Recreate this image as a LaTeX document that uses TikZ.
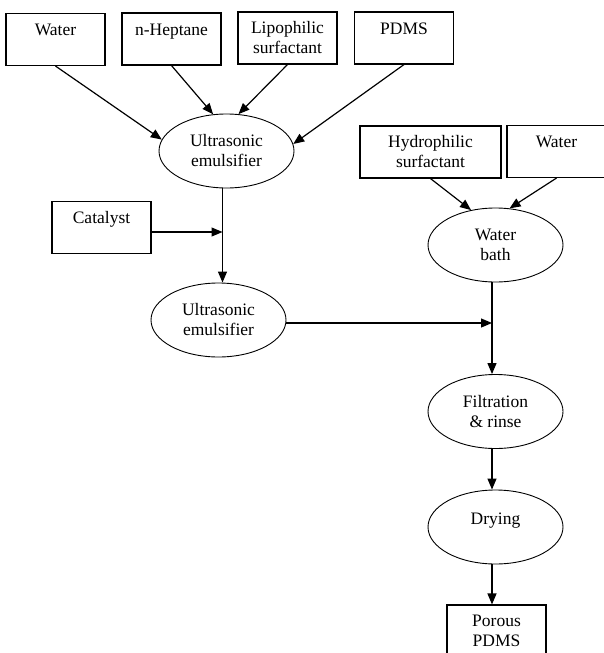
\documentclass[tikz,border=0pt]{standalone}
\usepackage{fontspec}
\setmainfont{Liberation Serif}
\usepackage{tikz}
\usetikzlibrary{shapes.geometric}
\usetikzlibrary{arrows.meta}
\tikzset{x=1pt, y=-1pt,
every node/.style={ % Sets the text of every node
font=\fontsize{17.5}{20}\selectfont,
align=center},
every edge/.style={ % Sets the properties for each flow line
draw,
-{Triangle[length=11pt,width=9pt]}, % Filled arrow heads
line width=1.2pt}}

\begin{document}
\begin{tikzpicture}
\tikzset{box/.style={rectangle,draw,line width=1.1pt,
minimum width=99pt,minimum height=52pt,inner sep=0pt},
proc/.style={ellipse,draw,line width=0.9pt,
minimum width=135pt,minimum height=74pt,inner sep=0pt},
oneline/.style={text height=12pt,text depth=20pt}}
\useasboundingbox (0,0) rectangle (603,653);
\node[box , oneline ] (water1) at (55.5,39.5) {Water};
\node[box , oneline ] (hept) at (171.5,39) {n-Heptane};
\node[box ] (lipo) at (287.5,38) {Lipophilic\\surfactant};
\node[box , oneline ] (pdms) at (404,38) {PDMS};
\node[proc ] (emul1) at (226.5,151) {Ultrasonic\\emulsifier};
\node[box , minimum width=141pt ] (hydro) at (430.5,152) {Hydrophilic\\surfactant};
\node[box , oneline ] (water2) at (556.5,151.5) {Water};
\node[proc ] (bath) at (495.5,245) {Water\\bath};
\node[box , oneline ] (cat) at (101.5,227.5) {Catalyst};
\node[proc ] (emul2) at (218.5,320) {Ultrasonic\\emulsifier};
\node[proc ] (filt) at (495.5,411.5) {Filtration\\\& rinse};
\node[proc , text depth=17pt ] (dry) at (495.5,527) {Drying};
\node[box ] (porous) at (496.5,631) {Porous\\PDMS};
\coordinate (j1) at (222.5,232);
\coordinate (j2) at (492,323);
\draw (water1.south) edge[] (emul1.170) ;
\draw (hept.south) edge[] (emul1.110) ;
\draw (lipo.south) edge[] (emul1.72) ;
\draw (pdms.south) edge[] (emul1.6) ;
\draw (hydro.south) edge[] (bath.125) ;
\draw (water2.south) edge[] (bath.69) ;
\draw (cat.east |- j1) edge[] (j1) ;
\draw (emul1.south -| j1) edge[] (emul2.north -| j1) ;
\draw (emul2.east |- j2) edge[] (j2) ;
\draw (bath.south -| j2) edge[] (filt.north -| j2) ;
\draw (filt.south -| j2) edge[] (dry.north -| j2) ;
\draw (dry.south -| j2) edge[] (porous.north -| j2) ;
\end{tikzpicture}
\end{document}
